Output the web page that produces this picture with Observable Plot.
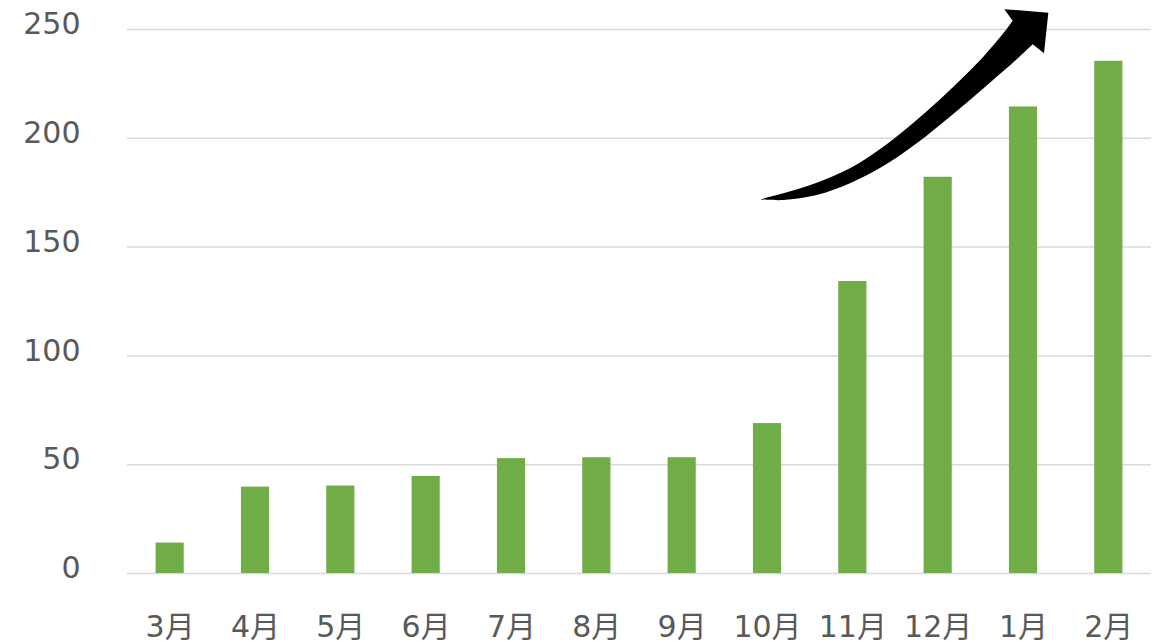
<!DOCTYPE html>
<html>
<head>
<meta charset="utf-8">
<script src="https://cdn.jsdelivr.net/npm/d3@7"></script>
<script src="https://cdn.jsdelivr.net/npm/@observablehq/plot@0.6"></script>
<style>
  html, body { margin: 0; padding: 0; background: #fff; }
  #chart svg { display: block; overflow: visible; }
</style>
</head>
<body>
<div id="chart"></div>
<script>
// Categories and values
const months = ["3月", "4月", "5月", "6月", "7月", "8月", "9月", "10月", "11月", "12月", "1月", "2月"];
const counts = [14, 39.7, 40.2, 44.6, 52.8, 53.2, 53.2, 68.9, 134.2, 182.1, 214.4, 235.4];
const yTicks = [0, 50, 100, 150, 200, 250];

// Trend arrow outline, in (month index, value) data coordinates
const arrowUpperI = [6.918, 7.191, 7.582, 7.972, 8.363, 8.754, 9.144, 9.535, 9.769, 9.879];
const arrowUpperV = [171.7, 174.5, 179.4, 186.0, 195.9, 208.2, 222.0, 237.3, 248.0, 253.8];
const arrowHeadI = [9.781, 10.297, 10.246, 10.114];
const arrowHeadV = [259.1, 257.5, 238.8, 243.0];
const arrowLowerI = [10.114, 9.926, 9.535, 9.144, 8.754, 8.363, 7.972, 7.582, 7.191, 6.918];
const arrowLowerV = [243.0, 236.1, 222.7, 209.7, 197.5, 187.0, 179.1, 173.7, 171.4, 171.7];

const data = months.map((m, i) => ({month: m, value: counts[i]}));
const font = "'DejaVu Sans', Verdana, 'Noto Sans CJK JP', sans-serif";

function arrowMark(index, scales) {
  const x = scales.x, y = scales.y;
  const c0 = x(months[0]), c1 = x(months[1]);
  const step = c1 - c0;
  const bw = typeof x.bandwidth === "function" ? x.bandwidth() : step * 0.33;
  const px = i => c0 + bw / 2 + i * step;
  const upper = arrowUpperI.map((i, k) => [px(i), y(arrowUpperV[k])]);
  const head = arrowHeadI.map((i, k) => [px(i), y(arrowHeadV[k])]);
  const lower = arrowLowerI.map((i, k) => [px(i), y(arrowLowerV[k])]);
  const line = d3.line().curve(d3.curveCatmullRom.alpha(0.5));
  let d = line(upper);
  d += head.map(p => "L" + p[0] + "," + p[1]).join("");
  d += line(lower).replace(/^M/, "L");
  d += "Z";
  const path = document.createElementNS("http://www.w3.org/2000/svg", "path");
  path.setAttribute("d", d);
  path.setAttribute("fill", "#000");
  return path;
}

const chart = Plot.plot({
  width: 1161,
  height: 642,
  marginTop: 29,
  marginBottom: 69,
  marginLeft: 127,
  marginRight: 10,
  style: {fontFamily: font, fontSize: "30px", color: "#595959", background: "#fff"},
  x: {domain: months, paddingInner: 0.67, paddingOuter: 0.335, round: false, label: null},
  y: {domain: [0, 250], label: null},
  marks: [
    Plot.ruleY(yTicks, {stroke: "#d9d9d9", strokeWidth: 1.5}),
    Plot.barY(data, {x: "month", y: "value", fill: "#70ad47"}),
    Plot.axisY(yTicks, {tickSize: 0, tickPadding: 47, dy: -5, fill: "#595959", fontSize: 30, label: null}),
    Plot.axisX({tickSize: 0, tickPadding: 42, fill: "#595959", fontSize: 30, label: null}),
    arrowMark
  ]
});
document.getElementById("chart").appendChild(chart);
</script>
</body>
</html>
